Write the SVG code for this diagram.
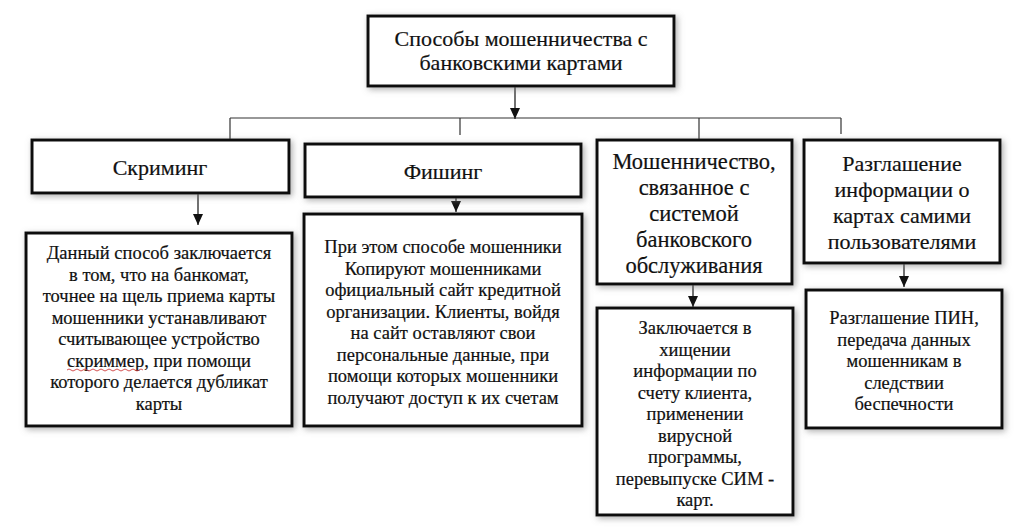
<svg xmlns="http://www.w3.org/2000/svg" width="1024" height="531" viewBox="0 0 1024 531">
<defs>
<filter id="sh" x="-20%" y="-20%" width="140%" height="140%">
<feDropShadow dx="2" dy="2" stdDeviation="3" flood-color="#7a7a7a" flood-opacity="0.6"/>
</filter>
<marker id="ah" markerUnits="userSpaceOnUse" markerWidth="11" markerHeight="10" viewBox="0 0 11 10" refX="11" refY="5" orient="auto">
<path d="M0,0 L11,5 L0,10 z" fill="#111"/>
</marker>
</defs>
<style>
.box{fill:#fff;stroke:#111;stroke-width:3;filter:url(#sh)}
text{font-family:"Liberation Serif","Times New Roman",serif;fill:#111;stroke:#111;stroke-width:0.2;text-anchor:middle}
.t22{font-size:22px}
.t23{font-size:22.5px}
.t18{font-size:18.5px}
.c{stroke:#333;stroke-width:1.2;fill:none}
.a{stroke:#111;stroke-width:1.2;fill:none;marker-end:url(#ah)}
</style>
<rect width="1024" height="531" fill="#fff"/>
<g id="connectors">
<line class="a" x1="515" y1="86" x2="515" y2="119"/>
<line class="c" x1="230" y1="118" x2="841" y2="118"/>
<line class="c" x1="230" y1="118" x2="230" y2="140"/>
<line class="c" x1="460" y1="118" x2="460" y2="135"/>
<line class="c" x1="699" y1="118" x2="699" y2="140"/>
<line class="c" x1="841" y1="118" x2="841" y2="134"/>
<line class="a" x1="198" y1="193" x2="198" y2="225"/>
<line class="a" x1="456" y1="197" x2="456" y2="212"/>
<line class="a" x1="693" y1="284" x2="693" y2="307"/>
<line class="a" x1="904" y1="263" x2="904" y2="287"/>
</g>
<g id="root">
<rect class="box" x="368" y="16" width="306" height="70"/>
<text class="t22" x="521" y="46">Способы мошенничества с</text>
<text class="t22" x="521" y="70">банковскими картами</text>
</g>
<g id="skimming">
<rect class="box" x="32" y="140" width="257" height="53"/>
<text class="t22" x="160" y="175">Скриминг</text>
</g>
<g id="phishing">
<rect class="box" x="305" y="144" width="276" height="53"/>
<text class="t22" x="443" y="179">Фишинг</text>
</g>
<g id="bank-system">
<rect class="box" x="597" y="140" width="195" height="144"/>
<text class="t23" x="694" y="169">Мошенничество,</text>
<text class="t23" x="694" y="195">связанное с</text>
<text class="t23" x="694" y="221">системой</text>
<text class="t23" x="694" y="247">банковского</text>
<text class="t23" x="694" y="273">обслуживания</text>
</g>
<g id="disclosure">
<rect class="box" x="804" y="140" width="196" height="123"/>
<text class="t22" x="902" y="171">Разглашение</text>
<text class="t22" x="902" y="197">информации о</text>
<text class="t22" x="902" y="223">картах самими</text>
<text class="t22" x="902" y="249">пользователями</text>
</g>
<g id="skimming-detail">
<rect class="box" x="26" y="233" width="266" height="193"/>
<text class="t18" x="159" y="259">Данный способ заключается</text>
<text class="t18" x="159" y="280.5">в том, что на банкомат,</text>
<text class="t18" x="159" y="302">точнее на щель приема карты</text>
<text class="t18" x="159" y="323.5">мошенники устанавливают</text>
<text class="t18" x="159" y="345">считывающее устройство</text>
<text class="t18" x="159" y="366.5">скриммер, при помощи</text>
<text class="t18" x="159" y="388">которого делается дубликат</text>
<text class="t18" x="159" y="409.5">карты</text>
<path d="M67,370 q2,-2 4,0 t4,0 t4,0 t4,0 t4,0 t4,0 t4,0 t4,0 t4,0 t4,0 t4,0 t4,0 t4,0 t4,0 t4,0 t4,0 t4,0 t4,0 t4,0" fill="none" stroke="#d04040" stroke-width="0.9"/>
</g>
<g id="phishing-detail">
<rect class="box" x="304" y="214" width="278" height="212"/>
<text class="t18" x="443" y="253">При этом способе мошенники</text>
<text class="t18" x="443" y="274.5">Копируют мошенниками</text>
<text class="t18" x="443" y="296">официальный сайт кредитной</text>
<text class="t18" x="443" y="317.5">организации. Клиенты, войдя</text>
<text class="t18" x="443" y="339">на сайт оставляют свои</text>
<text class="t18" x="443" y="360.5">персональные данные, при</text>
<text class="t18" x="443" y="382">помощи которых мошенники</text>
<text class="t18" x="443" y="403.5">получают доступ к их счетам</text>
</g>
<g id="bank-system-detail">
<rect class="box" x="597" y="308" width="196" height="207"/>
<text class="t18" x="695" y="334">Заключается в</text>
<text class="t18" x="695" y="355.5">хищении</text>
<text class="t18" x="695" y="377">информации по</text>
<text class="t18" x="695" y="398.5">счету клиента,</text>
<text class="t18" x="695" y="420">применении</text>
<text class="t18" x="695" y="441.5">вирусной</text>
<text class="t18" x="695" y="463">программы,</text>
<text class="t18" x="695" y="484.5">перевыпуске СИМ -</text>
<text class="t18" x="695" y="506">карт.</text>
</g>
<g id="disclosure-detail">
<rect class="box" x="806" y="290" width="196" height="138"/>
<text class="t18" x="904" y="324">Разглашение ПИН,</text>
<text class="t18" x="904" y="345.5">передача данных</text>
<text class="t18" x="904" y="367">мошенникам в</text>
<text class="t18" x="904" y="388.5">следствии</text>
<text class="t18" x="904" y="410">беспечности</text>
</g>
</svg>
